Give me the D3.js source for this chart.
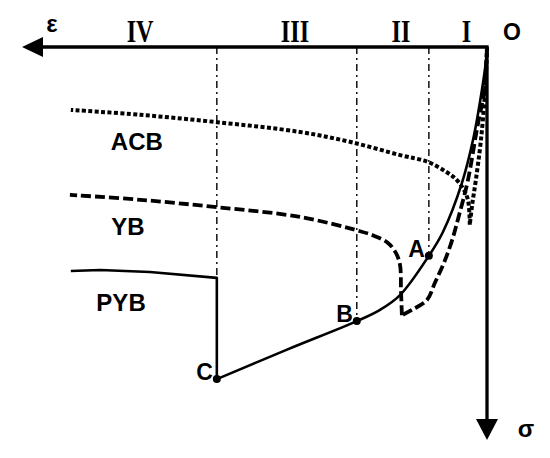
<!DOCTYPE html>
<html>
<head>
<meta charset="utf-8">
<script src="https://cdn.jsdelivr.net/npm/d3@7"></script>
<style>
  body { margin: 0; background: #fff; }
  text { font-family: "Liberation Sans", Arial, sans-serif; fill: #000; }
  .num { font-family: "Liberation Serif", "Times New Roman", serif; }
</style>
</head>
<body>
<script>
// strain (ε, leftwards) and stress (σ, downwards), arbitrary units
// curves run from O to the peak and back along the post-peak branch
var pybCurve = [[0,0],[0.02,0.26],[0.11,0.88],[0.30,1.89],[0.54,2.77],[0.95,3.77],[1.25,4.25],
  [1.87,5.05],[2.30,5.35],[2.80,5.58],[4.30,6.16],[5.81,6.76]];
var pybDrop = [[5.81,6.76],[5.81,4.70],[7.25,4.58],[8.32,4.54],[8.95,4.56]];

var ybCurve = [[0,0],[0.06,0.88],[0.22,1.69],[0.41,2.71],[0.60,3.42],[0.75,3.93],[0.92,4.38],
  [1.12,4.80],[1.29,5.15],[1.61,5.35],[1.83,5.46]];
var ybDrop = [[1.83,5.46],[1.85,4.95],[1.87,4.44],[1.96,4.19],[2.13,3.99],[2.41,3.85],[2.73,3.75],
  [4.02,3.46],[5.81,3.26],[7.46,3.11],[8.97,3.01]];

var acbCurve = [[0,0],[0.04,0.88],[0.13,1.89],[0.24,2.71],[0.32,3.22],[0.37,3.62]];
var acbDrop = [[0.37,3.62],[0.41,3.11],[0.52,2.87],[0.69,2.67],[0.88,2.54],[1.27,2.34],[1.87,2.20],
  [2.95,1.93],[4.02,1.73],[5.81,1.53],[7.46,1.38],[8.95,1.28]];

var keyPoints = [{name:"A", e:1.25, s:4.25},{name:"B", e:2.80, s:5.58},{name:"C", e:5.81, s:6.76}];
var stageText = ["IV","III","II","I"];
var stagePos = [7.46, 4.13, 1.85, 0.44];
var curveNames = ["ACB","YB","PYB"];
var curveLabelPos = [[7.53,2.10],[7.72,3.83],[7.87,5.37]];

var W = 550, H = 458;
var svg = d3.select("body").append("svg").attr("width", W).attr("height", H);

var x = d3.scaleLinear().domain([0,10]).range([487,22]);
var y = d3.scaleLinear().domain([0,8]).range([47,440]);

var line = d3.line()
  .x(function(d){ return x(d[0]); })
  .y(function(d){ return y(d[1]); })
  .curve(d3.curveCatmullRom.alpha(0.5));

// guide lines at A, B, C
svg.append("g").selectAll("line")
  .data(keyPoints).enter().append("line")
  .attr("x1", function(d){ return x(d.e); })
  .attr("x2", function(d){ return x(d.e); })
  .attr("y1", y(0)).attr("y2", function(d){ return y(d.s); })
  .attr("stroke", "#000").attr("stroke-width", 1.4)
  .attr("stroke-dasharray", "7,4,2,4");

// curves
function drawCurve(pts, w, dash){
  svg.append("path").datum(pts)
    .attr("d", line)
    .attr("fill", "none").attr("stroke", "#000")
    .attr("stroke-width", w)
    .attr("stroke-dasharray", dash)
    .attr("stroke-linejoin", "round");
}
drawCurve(acbCurve, 4, "4,2.4");
drawCurve(acbDrop, 4, "4,2.4");
drawCurve(ybCurve, 3.8, "10,4");
drawCurve(ybDrop, 3.8, "10,4");

svg.append("path").datum(pybCurve)
  .attr("d", line).attr("fill","none").attr("stroke","#000").attr("stroke-width",2.6);
svg.append("path").datum(pybDrop)
  .attr("d", d3.line().x(function(d){return x(d[0]);}).y(function(d){return y(d[1]);})
    .curve(d3.curveLinear))
  .attr("fill","none").attr("stroke","#000").attr("stroke-width",2.6).attr("stroke-linejoin","round");

// axes
var ax0 = x(0), ay0 = y(0), aw = 3.3;
svg.append("path")
  .attr("d", "M" + (x(10)+20) + "," + ay0 + "L" + ax0 + "," + ay0 + "L" + ax0 + "," + (y(8)-20))
  .attr("fill","none").attr("stroke","#000").attr("stroke-width",aw).attr("stroke-linejoin","miter");
svg.append("path")
  .attr("d", "M" + x(10) + "," + ay0 + "L" + (x(10)+21) + "," + (ay0-10) + "L" + (x(10)+21) + "," + (ay0+10) + "Z")
  .attr("fill","#000");
svg.append("path")
  .attr("d", "M" + ax0 + "," + y(8) + "L" + (ax0-11) + "," + (y(8)-21) + "L" + (ax0+11) + "," + (y(8)-21) + "Z")
  .attr("fill","#000");

svg.append("text").attr("x", x(10)+30).attr("y", ay0-15)
  .attr("text-anchor","middle").attr("font-size",24).attr("font-weight","bold").text("ε");
svg.append("text").attr("x", ax0+39).attr("y", y(8)-3)
  .attr("text-anchor","middle").attr("font-size",24).attr("font-weight","bold").text("σ");
svg.append("text").attr("x", ax0+25).attr("y", ay0-7)
  .attr("text-anchor","middle").attr("font-size",23).attr("font-weight","bold").text("O");

// stage numerals
svg.append("g").selectAll("text")
  .data(stageText).enter().append("text")
  .attr("class","num")
  .attr("transform", function(d,i){ return "translate(" + x(stagePos[i]) + "," + (ay0-5) + ") scale(0.78,1)"; })
  .attr("text-anchor","middle").attr("font-size",31).attr("font-weight","bold")
  .text(function(d){ return d; });

// key points
svg.append("g").selectAll("circle")
  .data(keyPoints).enter().append("circle")
  .attr("cx", function(d){ return x(d.e); })
  .attr("cy", function(d){ return y(d.s); })
  .attr("r", 4).attr("fill","#000");
svg.append("g").selectAll("text")
  .data(keyPoints).enter().append("text")
  .attr("x", function(d){ return x(d.e) - 4; })
  .attr("y", function(d){ return y(d.s) + 1; })
  .attr("text-anchor","end").attr("font-size",23).attr("font-weight","bold")
  .text(function(d){ return d.name; });

// curve names
svg.append("g").selectAll("text")
  .data(curveNames).enter().append("text")
  .attr("x", function(d,i){ return x(curveLabelPos[i][0]); })
  .attr("y", function(d,i){ return y(curveLabelPos[i][1]); })
  .attr("text-anchor","middle").attr("font-size",24).attr("font-weight","bold")
  .text(function(d){ return d; });
</script>
</body>
</html>
